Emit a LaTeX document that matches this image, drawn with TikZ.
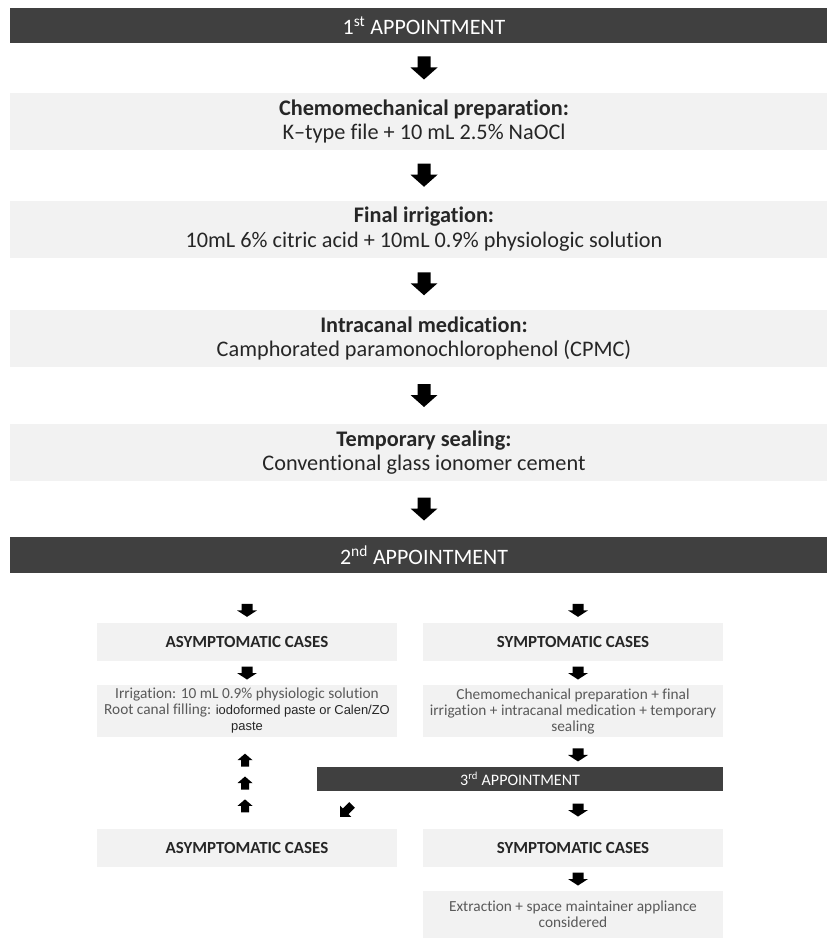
\documentclass[tikz,border=0pt]{standalone}
\usepackage{fontspec}
\setmainfont{Carlito}[Ligatures=NoCommon]
\newfontfamily\arialfont{Liberation Sans}
\usetikzlibrary{calc}

\definecolor{bardark}{RGB}{64,64,64}
\definecolor{boxfill}{RGB}{242,242,242}
\definecolor{textdark}{RGB}{38,38,38}
\definecolor{textgray}{RGB}{89,89,89}

\newdimen\pxu \pxu=0.75pt

\tikzset{
  apptbar/.style={fill=bardark, text=white, inner sep=0pt, minimum width=828\pxu, minimum height=35\pxu, font=\fontsize{16.5}{19}\selectfont},
  stepbox/.style={fill=boxfill, text=textdark, inner sep=0pt, align=center, minimum width=828\pxu, minimum height=57\pxu, font=\fontsize{16.7}{18.5}\selectfont},
  casebox/.style={fill=boxfill, text=textdark, inner sep=0pt, align=center, minimum width=300\pxu, minimum height=38\pxu, font=\fontsize{12.7}{14}\selectfont\bfseries},
  notebox/.style={fill=boxfill, text=textgray, inner sep=0pt, align=center, minimum width=300\pxu, minimum height=52\pxu, font=\fontsize{11.5}{12}\selectfont},
  % block arrows, drawn pointing down
  pics/bigdown/.style={code={\fill[black] (-6.5,11.5) -- (6.5,11.5) -- (6.5,0.5) -- (13.5,0.5) -- (0,-11.5) -- (-13.5,0.5) -- (-6.5,0.5) -- cycle;}},
  pics/smalldown/.style={code={\fill[black] (-5.5,6.5) -- (5.5,6.5) -- (5.5,0) -- (10,0) -- (0,-6.5) -- (-10,0) -- (-5.5,0) -- cycle;}},
  pics/smallup/.style={code={\fill[black] (-4,-6.5) -- (4,-6.5) -- (4,0) -- (7.5,0) -- (0,6.5) -- (-7.5,0) -- (-4,0) -- cycle;}},
  pics/slantdown/.style={code={\fill[black] (-4,9) -- (4,9) -- (4,0) -- (8,0) -- (0,-8) -- (-8,0) -- (-4,0) -- cycle;}},
}

\begin{document}
\begin{tikzpicture}[x=0.75pt,y=0.75pt,yscale=-1,xscale=1]
\useasboundingbox (0,0) rectangle (827,938);
\clip (0,0) rectangle (827,938);

% 1st appointment
\node[apptbar] (appt1) at (424,25.5) {1\textsuperscript{st} APPOINTMENT};
% Text Node
\node[stepbox] (prep) at (424,121.5) {\textbf{Chemomechanical preparation:}\\K–type file + 10 mL 2.5\% NaOCl};
% Text Node
\node[stepbox] (irrig) at (424,229) {\textbf{Final irrigation:}\\10mL 6\% citric acid + 10mL 0.9\% physiologic solution};
% Text Node
\node[stepbox] (medic) at (424,338.5) {\textbf{Intracanal medication:}\\Camphorated paramonochlorophenol (CPMC)};
% Text Node
\node[stepbox] (seal) at (424,452.5) {\textbf{Temporary sealing:}\\Conventional glass ionomer cement};
% 2nd appointment
\node[apptbar, minimum height=36\pxu] (appt2) at (424,555) {2\textsuperscript{nd} APPOINTMENT};

% Text Node
\node[casebox] (asym) at (247,642) {ASYMPTOMATIC CASES};
% Text Node
\node[casebox] (sym) at (573,642) {SYMPTOMATIC CASES};
% Text Node
\node[notebox] (asymtx) at (247,711) {Irrigation: 10 mL 0.9\% physiologic solution\\Root canal filling: {\arialfont\color{black!85}\fontsize{9.7}{12}\selectfont iodoformed paste or Calen/ZO}\\{\arialfont\color{black!85}\fontsize{9.7}{12}\selectfont paste}};
% Text Node
\node[notebox] (symtx) at (573,711) {Chemomechanical preparation + final\\irrigation + intracanal medication + temporary\\sealing};
% 3rd appointment
\node[apptbar, minimum width=406\pxu, minimum height=24\pxu, font=\fontsize{12}{13}\selectfont] (appt3) at (520,779) {3\textsuperscript{rd} APPOINTMENT};
% Text Node
\node[casebox] (asym2) at (247,848) {ASYMPTOMATIC CASES};
% Text Node
\node[casebox] (sym2) at (573,848) {SYMPTOMATIC CASES};
% Text Node
\node[notebox, minimum height=47\pxu] (extract) at (573,914.5) {Extraction + space maintainer appliance\\considered};

% Block arrows
\pic at ($(appt1.south)!.5!(prep.north)$) {bigdown};
\pic at ($(prep.south)!.5!(irrig.north)$) {bigdown};
\pic at ($(irrig.south)!.5!(medic.north)$) {bigdown};
\pic at ($(medic.south)!.5!(seal.north)$) {bigdown};
\pic at ($(seal.south)!.5!(appt2.north)$) {bigdown};

\pic at ($(appt2.south -| asym)!.75!(asym.north)$) {smalldown};
\pic at ($(appt2.south -| sym)!.75!(sym.north)+(5,0)$) {smalldown};
\pic at ($(asym.south)!.5!(asymtx.north)$) {smalldown};
\pic at ($(sym.south)!.5!(symtx.north)+(5,0)$) {smalldown};
\pic at ($(symtx.south)!.6!(appt3.north -| symtx)+(5,0)$) {smalldown};

\foreach \f in {.25,.5,.75}
  \pic at ($(asym2.north)!\f!(asymtx.south)+(-2,0)$) {smallup};
\pic[rotate=-45] at ($(appt3.south west)+(29,20)$) {slantdown};
\pic at ($(appt3.south -| sym2)!.5!(sym2.north)+(5,0)$) {smalldown};
\pic at ($(sym2.south)!.5!(extract.north)+(5,0)$) {smalldown};

\end{tikzpicture}
\end{document}
